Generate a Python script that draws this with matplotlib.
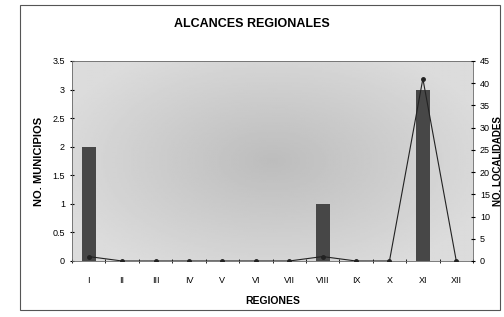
import numpy as np
import matplotlib
matplotlib.use("Agg")
import matplotlib.pyplot as plt
from matplotlib.patches import Rectangle

plt.rcParams['font.family'] = ['Liberation Sans', 'DejaVu Sans']

regiones = ["I", "II", "III", "IV", "V", "VI", "VII", "VIII", "IX", "X", "XI", "XII"]
municipios = [2, 0, 0, 0, 0, 0, 0, 1, 0, 0, 3, 0]
localidades = [1, 0, 0, 0, 0, 0, 0, 1, 0, 0, 41, 0]

fig = plt.figure(figsize=(5.04, 3.17), dpi=100, facecolor="white")
fig.patches.append(Rectangle((20 / 504, 1 - 310 / 317), 480 / 504, 305 / 317,
                             transform=fig.transFigure, fill=False,
                             edgecolor="#555555", linewidth=0.8))

ax = fig.add_axes([72 / 504, 1 - 261 / 317, 401 / 504, 200 / 317])
x = np.arange(len(regiones))

# light gray shaded background, a bit darker toward the middle
gx, gy = np.meshgrid(np.linspace(-1, 1, 200), np.linspace(-1, 1, 120))
shade = 0.86 - 0.12 * np.clip(1 - np.sqrt((gx * 0.9) ** 2 + (gy * 0.8) ** 2), 0, 1)
ax.imshow(shade, extent=[-0.5, 11.5, 0, 3.5], aspect="auto", cmap="gray",
          vmin=0, vmax=1, zorder=0)

ax.bar(x, municipios, width=0.42, color="#474747", zorder=2)
ax.set_xlim(-0.5, 11.5)
ax.set_ylim(0, 3.5)
ax.set_yticks(np.arange(0, 3.51, 0.5))
ax.set_yticklabels(["0", "0.5", "1", "1.5", "2", "2.5", "3", "3.5"])
ax.set_xticks(x)
ax.set_xticklabels(regiones)
ax.set_xticks(np.arange(-0.5, 11.6, 1), minor=True)
ax.tick_params(axis="x", which="major", length=0, pad=11, labelsize=6.5)
ax.tick_params(axis="x", which="minor", length=3, direction="inout")
ax.tick_params(axis="y", length=3, direction="inout", labelsize=6.5)
ax.set_xlabel("REGIONES", fontsize=7.5, fontweight="bold", labelpad=8)
ax.set_ylabel("NO. MUNICIPIOS", fontsize=8, fontweight="bold", labelpad=6)
for s in ax.spines.values():
    s.set_color("#666666")
    s.set_linewidth(0.6)

ax2 = ax.twinx()
ax2.plot(x, localidades, color="#222222", linewidth=0.8, marker="o",
         markersize=2.5, zorder=3)
ax2.set_ylim(0, 45)
ax2.set_yticks(np.arange(0, 46, 5))
ax2.tick_params(axis="y", length=3, direction="inout", labelsize=6.5)
ax2.set_ylabel("NO. LOCALIDADES", fontsize=7, fontweight="bold", labelpad=2)
for s in ax2.spines.values():
    s.set_visible(False)

fig.text(0.5, 1 - 24 / 317, "ALCANCES REGIONALES", ha="center", va="center",
         fontsize=9, fontweight="bold")

fig.savefig("out.png", dpi=100)
